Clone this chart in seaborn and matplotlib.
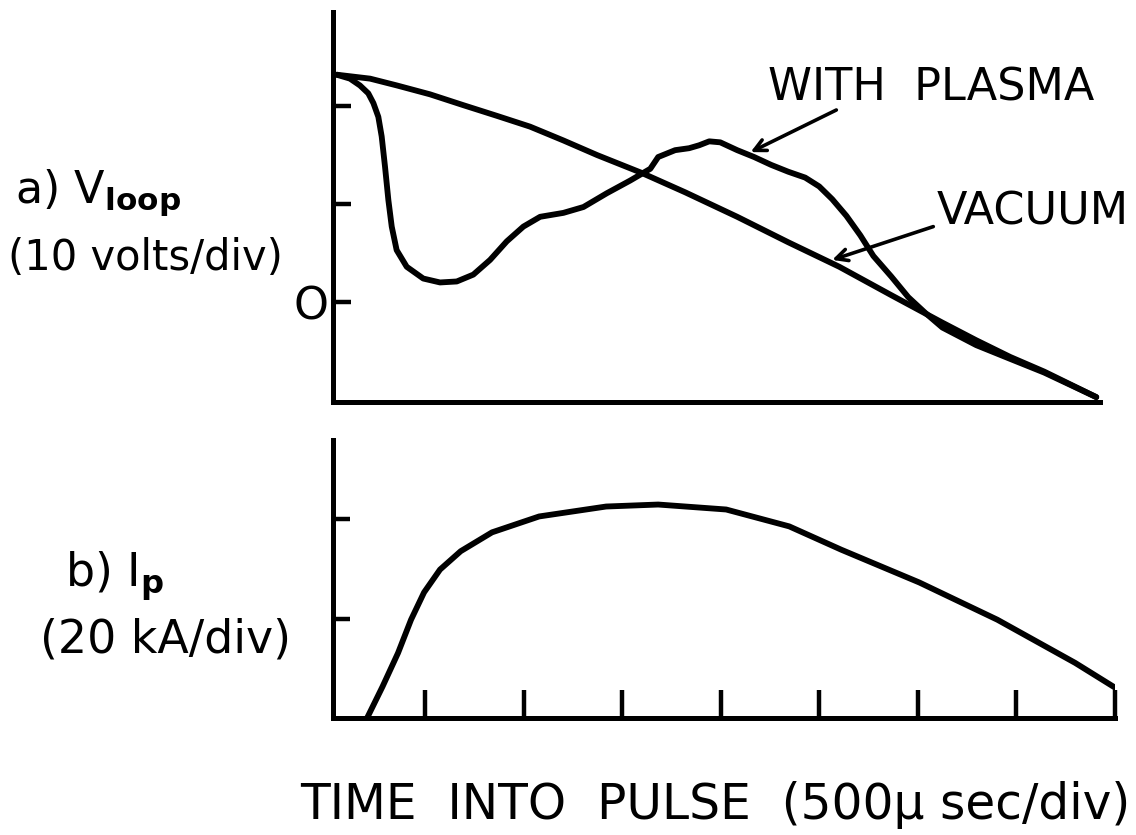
import matplotlib
matplotlib.use("Agg")
import matplotlib.pyplot as plt
import seaborn as sns
import pandas as pd

# ---- data (time in microseconds, V_loop in volts, I_p in kA) ----
vac_t = [53, 221, 358, 525, 693, 865, 1033, 1201, 1373, 1597, 1820, 2084, 2343,
         2602, 2866, 3125, 3297, 3469, 3642, 3906]
vac_v = [23.2, 22.8, 22.1, 21.2, 20.1, 19.0, 17.9, 16.5, 15.0, 13.2, 11.2, 8.7, 6.1,
         3.6, 0.7, -2.1, -3.9, -5.6, -7.1, -9.7]

pla_t = [52, 119, 170, 212, 238, 263, 280, 297, 314, 331, 356, 407, 491, 576, 661,
         745, 830, 915, 999, 1084, 1202, 1304, 1422, 1541, 1643, 1683, 1769, 1840,
         1891, 1942, 1998, 2084, 2170, 2256, 2343, 2429, 2500, 2566, 2638, 2709,
         2775, 2866, 2952, 3038, 3125, 3297, 3469, 3642, 3906]
pla_v = [23.2, 22.8, 22.1, 21.3, 20.3, 18.9, 16.9, 13.8, 10.4, 7.7, 5.3, 3.6, 2.4,
         2.0, 2.1, 2.8, 4.3, 6.2, 7.7, 8.7, 9.1, 9.7, 11.1, 12.4, 13.6, 14.8, 15.5,
         15.7, 16.0, 16.4, 16.3, 15.5, 14.8, 14.0, 13.3, 12.7, 11.8, 10.5, 8.8, 6.8,
         4.7, 2.6, 0.5, -1.1, -2.6, -4.4, -5.8, -7.2, -9.7]

ip_t = [206, 284, 363, 429, 495, 576, 681, 840, 1079, 1419, 1683, 2028, 2348, 2612,
        3008, 3404, 3799, 4018]
ip_ka = [0.0, 6.3, 13.1, 19.8, 25.3, 29.9, 33.6, 37.4, 40.6, 42.6, 43.0, 42.0, 38.6,
         33.9, 27.3, 19.8, 11.1, 5.7]

v_ticks = [0, 10, 20]
v_tick_labels = ["O", "", ""]
ip_ticks = [20, 40]
t_ticks = [500, 1000, 1500, 2000, 2500, 3000, 3500, 4000]

sns.set_theme(style="white")
plt.rcParams["font.family"] = ["DejaVu Sans"]
plt.rcParams["mathtext.fontset"] = "dejavusans"
for k in ("text.color", "axes.labelcolor", "xtick.color", "ytick.color"):
    plt.rcParams[k] = "black"

W, H = 1136, 835
fig = plt.figure(figsize=(W / 100, H / 100), dpi=100)
fig.patch.set_facecolor("white")

def frac(x0, y0, x1, y1):
    return [x0 / W, 1 - y1 / H, (x1 - x0) / W, (y1 - y0) / H]

ax1 = fig.add_axes(frac(333, 12, 1115, 402))
ax2 = fig.add_axes(frac(333, 440, 1115, 718))

XL = (33, 4001)
lw_curve = 4.2
lw_spine = 3.6

df_vac = pd.DataFrame({"t": vac_t, "v": vac_v})
df_pla = pd.DataFrame({"t": pla_t, "v": pla_v})
df_ip = pd.DataFrame({"t": ip_t, "i": ip_ka})

line_kw = dict(color="black", lw=lw_curve, sort=False, estimator=None)
sns.lineplot(data=df_vac, x="t", y="v", ax=ax1, **line_kw)
sns.lineplot(data=df_pla, x="t", y="v", ax=ax1, **line_kw)
sns.lineplot(data=df_ip, x="t", y="i", ax=ax2, **line_kw)
for ax in (ax1, ax2):
    for ln in ax.lines:
        ln.set_solid_joinstyle("round")
        ln.set_solid_capstyle("round")

for ax in (ax1, ax2):
    ax.set_facecolor("white")
    ax.set_xlim(*XL)
    for s in ("top", "right"):
        ax.spines[s].set_visible(False)
    for s in ("left", "bottom"):
        ax.spines[s].set_linewidth(lw_spine)
        ax.spines[s].set_color("black")
    ax.set_xlabel("")
    ax.set_ylabel("")

ax1.set_ylim(-10.2, 29.6)
ax1.spines["bottom"].set_bounds(XL[0], 3925)
ax1.set_yticks(v_ticks)
ax1.set_yticklabels(v_tick_labels, fontsize=32)
ax1.set_xticks([])
ax1.tick_params(axis="y", direction="in", length=13, width=3.2, color="black",
                pad=3, left=True)

ax2.set_ylim(0, 56)
ax2.set_yticks(ip_ticks)
ax2.set_yticklabels([])
ax2.set_xticks(t_ticks)
ax2.set_xticklabels([])
ax2.tick_params(axis="y", direction="in", length=12, width=3.2, color="black", left=True)
ax2.tick_params(axis="x", direction="in", length=20, width=3.2, color="black", bottom=True)

# Left labels
fig.text(15 / W, 1 - 193 / H, r"a) V$_{\mathbf{loop}}$", fontsize=32, ha="left", va="center")
fig.text(8 / W, 1 - 258 / H, "(10 volts/div)", fontsize=30, ha="left", va="center")
fig.text(65 / W, 1 - 576 / H, r"b) I$_{\mathbf{p}}$", fontsize=33, ha="left", va="center")
fig.text(40 / W, 1 - 640 / H, "(20 kA/div)", fontsize=33, ha="left", va="center")
fig.text(1130 / W, 1 - 805 / H, "TIME  INTO  PULSE  (500\u03bc sec/div)", fontsize=35,
         ha="right", va="center")

# Curve annotations
ax1.text(3070, 21.8, "WITH  PLASMA", fontsize=32, ha="center", va="center", clip_on=False)
ax1.text(3581, 9.2, "VACUUM", fontsize=32, ha="center", va="center", clip_on=False)
arrow_kw = dict(arrowstyle="->,head_length=0.7,head_width=0.35", lw=2.6, color="black",
                shrinkA=0, shrinkB=0)
ax1.annotate("", xy=(2152, 15.3), xytext=(2587, 19.6), arrowprops=arrow_kw,
             annotation_clip=False)
ax1.annotate("", xy=(2566, 4.3), xytext=(3079, 7.7), arrowprops=arrow_kw,
             annotation_clip=False)

fig.savefig("out.png", dpi=100, facecolor="white")
